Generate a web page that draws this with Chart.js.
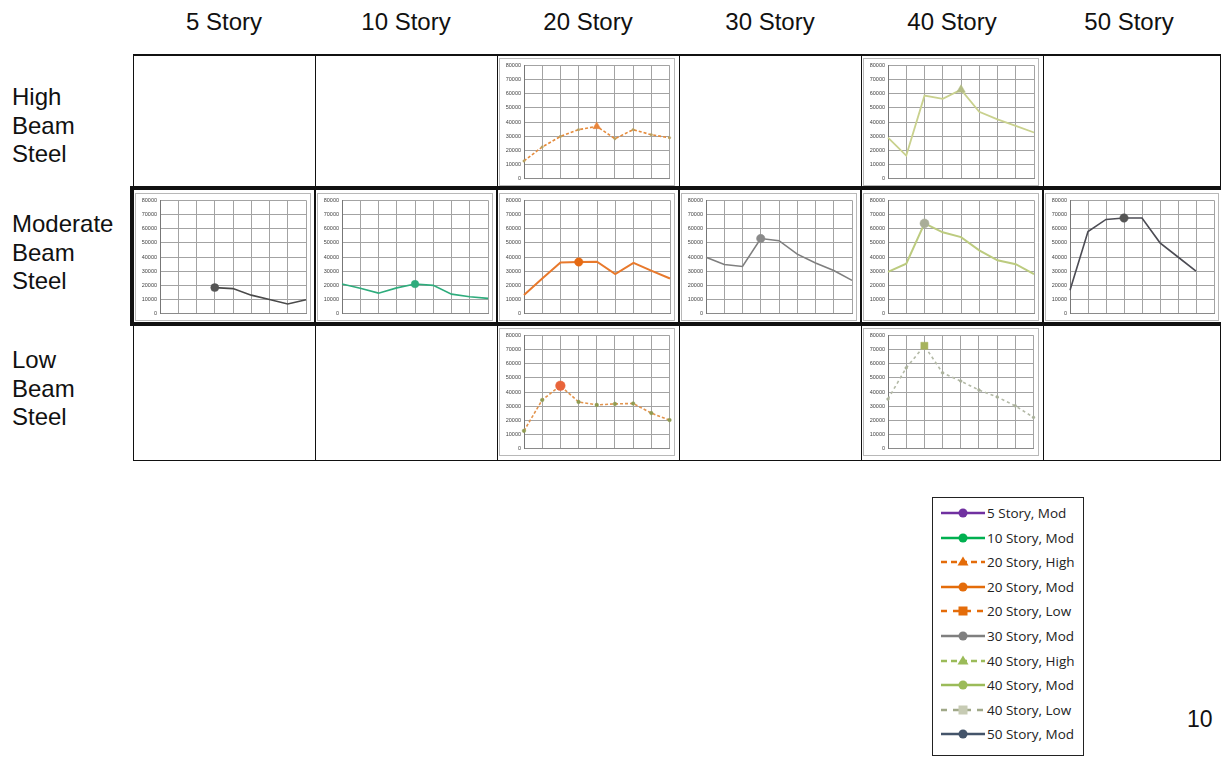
<!DOCTYPE html>
<html>
<head>
<meta charset="utf-8">
<script src="https://cdn.jsdelivr.net/npm/chart.js@4"></script>
<style>
  html,body{margin:0;padding:0;background:#fff;}
  #page{position:relative;width:1221px;height:757px;overflow:hidden;background:#fff;font-family:"Liberation Sans",Arial,sans-serif;color:#111;}
  .hdr{position:absolute;top:6px;width:182px;text-align:center;font-size:24px;line-height:32px;}
  .rowlab{position:absolute;left:12px;font-size:24px;line-height:28.5px;}
  .ln{position:absolute;background:#111;}
  .box{position:absolute;border:1px solid #b8b8b8;background:#fff;box-sizing:border-box;}
  .box canvas{position:absolute;left:0;top:0;}
  #legend{position:absolute;left:932px;top:497px;width:152px;height:259px;border:1.5px solid #222;box-sizing:border-box;background:#fff;}
  .li{position:absolute;left:6px;height:20px;font-family:"Open Sans",sans-serif;font-size:13.5px;line-height:20px;color:#222;white-space:nowrap;}
  .li svg{position:absolute;left:0;top:0;}
  .li span{position:absolute;left:48px;top:0;}
  #pg{position:absolute;left:1187px;top:704px;font-size:23px;line-height:30px;}
</style>
</head>
<body>
<div id="page">
  <div class="hdr" style="left:133px">5 Story</div>
  <div class="hdr" style="left:315px">10 Story</div>
  <div class="hdr" style="left:497px">20 Story</div>
  <div class="hdr" style="left:679px">30 Story</div>
  <div class="hdr" style="left:861px">40 Story</div>
  <div class="hdr" style="left:1038px">50 Story</div>

  <div class="rowlab" style="top:83px">High<br>Beam<br>Steel</div>
  <div class="rowlab" style="top:210px">Moderate<br>Beam<br>Steel</div>
  <div class="rowlab" style="top:346px">Low<br>Beam<br>Steel</div>

  <div id="grid"></div>
  <div id="charts"></div>
  <div id="legend"></div>
  <div id="pg">10</div>
</div>
<script>
// ---------- DATA ----------
const categories = ['1','2','3','4','5','6','7','8','9'];
const yTicks = [0,10000,20000,30000,40000,50000,60000,70000,80000];

const story5Mod   = [null,null,null,18400,17700,13100,10000,6900,9900];
const story10Mod  = [20900,18000,14500,18200,20900,20000,13800,12000,10800];
const story20High = [12500,22400,29800,34600,36900,28200,34600,31000,28900];
const story20Mod  = [13200,24800,36200,36500,36700,27900,35800,30200,24800];
const story20Low  = [12600,34400,44400,33000,30900,31600,31900,25100,20200];
const story30Mod  = [39800,34700,33300,53000,51500,42000,35800,30500,23500];
const story40High = [29000,16300,58600,56300,62800,47200,41900,37200,32600];
const story40Mod  = [29500,35300,63700,57400,54000,44700,37700,34900,27900];
const story40Low  = [35000,57000,72600,53500,47700,41400,36500,30200,22100];
const story50Mod  = [16500,58000,66500,67500,67500,50000,40000,30000,null];

const columnLabels = ['5 Story','10 Story','20 Story','30 Story','40 Story','50 Story'];
const rowLabels = ['High Beam Steel','Moderate Beam Steel','Low Beam Steel'];
const legendLabels = ['5 Story, Mod','10 Story, Mod','20 Story, High','20 Story, Mod','20 Story, Low',
                      '30 Story, Mod','40 Story, High','40 Story, Mod','40 Story, Low','50 Story, Mod'];
// index of the highlighted (marked) point of each series
const markerIndex = {s5:3, s10:4, s20h:4, s20m:3, s20l:2, s30:3, s40h:4, s40m:2, s40l:2, s50:3};

// ---------- LAYOUT ----------
const colX = [133,315,497,679,861,1043];
const rowY = [55,190,325];

const grid = document.getElementById('grid');
function line(l,t,w,h){const d=document.createElement('div');d.className='ln';d.style.cssText=`left:${l}px;top:${t}px;width:${w}px;height:${h}px`;grid.appendChild(d);}
// top row
line(133,54,1090,1.5);
colX.forEach(x=>line(x-0.5,54,1.5,133));
line(1219.5,54,1.5,133);
// bottom row
line(133,459.5,1090,1.5);
colX.forEach(x=>line(x-0.5,326,1.5,135));
line(1219.5,326,1.5,135);
// moderate row thick frame
line(130,186,1095,4);
line(130,322,1095,4);
line(130,186,4,140);
colX.slice(1).forEach(x=>line(x-1,188,2,136));

// ---------- SMALL CHARTS ----------
const specs = [
  {col:2,row:0,data:story20High,mk:markerIndex.s20h,color:'#e58b3c',width:1.6,dash:[3,2],mStyle:'triangle',mColor:'#e8843a',mR:4.5,small:1.2,smallColor:'#b5a060'},
  {col:4,row:0,data:story40High,mk:markerIndex.s40h,color:'#c9d18e',width:1.8,dash:[],mStyle:'triangle',mColor:'#b3bc84',mR:5,small:0,smallColor:'#c9d18e'},
  {col:0,row:1,data:story5Mod,mk:markerIndex.s5,color:'#4a4a4a',width:1.6,dash:[],mStyle:'circle',mColor:'#555555',mR:4,small:0,smallColor:'#4a4a4a'},
  {col:1,row:1,data:story10Mod,mk:markerIndex.s10,color:'#2eac7c',width:1.6,dash:[],mStyle:'circle',mColor:'#2eac7c',mR:3.8,small:0,smallColor:'#2eac7c'},
  {col:2,row:1,data:story20Mod,mk:markerIndex.s20m,color:'#e8792c',width:2,dash:[],mStyle:'circle',mColor:'#e66a12',mR:4.2,small:0,smallColor:'#e8792c'},
  {col:3,row:1,data:story30Mod,mk:markerIndex.s30,color:'#7f7f7f',width:1.6,dash:[],mStyle:'circle',mColor:'#8a8a8a',mR:4.2,small:0,smallColor:'#7f7f7f'},
  {col:4,row:1,data:story40Mod,mk:markerIndex.s40m,color:'#bccb7f',width:2,dash:[],mStyle:'circle',mColor:'#a9ad98',mR:4.5,small:0,smallColor:'#bccb7f'},
  {col:5,row:1,data:story50Mod,mk:markerIndex.s50,color:'#4c4c54',width:1.6,dash:[],mStyle:'circle',mColor:'#555555',mR:4.2,small:0,smallColor:'#4c4c54'},
  {col:2,row:2,data:story20Low,mk:markerIndex.s20l,color:'#e2944e',width:1.6,dash:[3,2],mStyle:'circle',mColor:'#e8643a',mR:4.8,small:1.8,smallColor:'#8f9a50'},
  {col:4,row:2,data:story40Low,mk:markerIndex.s40l,color:'#b3b9a6',width:1.6,dash:[3,3],mStyle:'rect',mColor:'#a6b35c',mR:5,small:1.4,smallColor:'#a9b09a'},
];

const chartsDiv = document.getElementById('charts');
specs.forEach((s,i)=>{
  const bx = colX[s.col]+2, by = rowY[s.row]+3;
  const bw = Math.min(176, 1219-bx), bh = 128;
  const box = document.createElement('div');
  box.className='box';
  box.style.cssText=`left:${bx}px;top:${by}px;width:${bw}px;height:${bh}px`;
  const cv = document.createElement('canvas');
  const cw = bw-2, ch = bh-2;
  cv.width=cw; cv.height=ch; cv.style.width=cw+'px'; cv.style.height=ch+'px';
  box.appendChild(cv);
  chartsDiv.appendChild(box);
  new Chart(cv,{
    type:'line',
    data:{labels:categories,datasets:[{
      data:s.data,
      borderColor:s.color,
      borderWidth:s.width,
      borderDash:s.dash,
      tension:0,
      spanGaps:false,
      pointStyle:ctx=>ctx.dataIndex===s.mk?s.mStyle:'circle',
      pointRadius:ctx=>ctx.dataIndex===s.mk?s.mR:s.small,
      pointBackgroundColor:ctx=>ctx.dataIndex===s.mk?s.mColor:s.smallColor,
      pointBorderColor:ctx=>ctx.dataIndex===s.mk?s.mColor:s.smallColor,
      pointBorderWidth:0.5
    }]},
    options:{
      responsive:false,animation:false,devicePixelRatio:1,
      layout:{padding:{top:6,right:4,bottom:5,left:0}},
      plugins:{legend:{display:false},tooltip:{enabled:false}},
      scales:{
        x:{type:'category',offset:false,
           grid:{color:'#a3a3a3',lineWidth:1,drawTicks:false},
           border:{display:true,color:'#8a8a8a'},
           ticks:{display:false},
           afterFit(sc){sc.height=0;}},
        y:{min:yTicks[0],max:yTicks[yTicks.length-1],
           afterBuildTicks(sc){sc.ticks=yTicks.map(v=>({value:v}));},
           ticks:{font:{family:'Liberation Sans',size:5.5},color:'#444',padding:3,
                  callback:v=>String(v)},
           grid:{color:'#a3a3a3',lineWidth:1,drawTicks:false},
           border:{display:true,color:'#777'},
           afterFit(sc){sc.width=24;}}
      }
    }
  });
});

// ---------- LEGEND ----------
const legendStyle = [
  {c:'#7030a0',dash:'',m:'circle',mc:'#7030a0'},
  {c:'#00b050',dash:'',m:'circle',mc:'#00b050'},
  {c:'#e46c0a',dash:'6,4',m:'triangle',mc:'#e46c0a'},
  {c:'#e46c0a',dash:'',m:'circle',mc:'#e46c0a'},
  {c:'#e46c0a',dash:'6,6',m:'square',mc:'#e46c0a'},
  {c:'#7f7f7f',dash:'',m:'circle',mc:'#7f7f7f'},
  {c:'#9bbb59',dash:'6,4',m:'triangle',mc:'#9bbb59'},
  {c:'#9bbb59',dash:'',m:'circle',mc:'#9bbb59'},
  {c:'#a0a888',dash:'6,6',m:'square',mc:'#c7cbb4'},
  {c:'#44546a',dash:'',m:'circle',mc:'#44546a'},
];
const legend = document.getElementById('legend');
legendLabels.forEach((t,i)=>{
  const d=document.createElement('div');
  d.className='li';
  d.style.top=(5+i*24.6)+'px';
  const st=legendStyle[i];
  let mk='';
  if(st.m==='circle') mk=`<circle cx="24" cy="10" r="4.5" fill="${st.mc}"/>`;
  else if(st.m==='triangle') mk=`<polygon points="24,4.5 29.5,13.5 18.5,13.5" fill="${st.mc}"/>`;
  else mk=`<rect x="19.5" y="5.5" width="9" height="9" fill="${st.mc}"/>`;
  d.innerHTML=`<svg width="48" height="20"><line x1="2" y1="10" x2="46" y2="10" stroke="${st.c}" stroke-width="2.5" ${st.dash?`stroke-dasharray="${st.dash}"`:''}/>${mk}</svg><span>${t}</span>`;
  legend.appendChild(d);
});
</script>
</body>
</html>
